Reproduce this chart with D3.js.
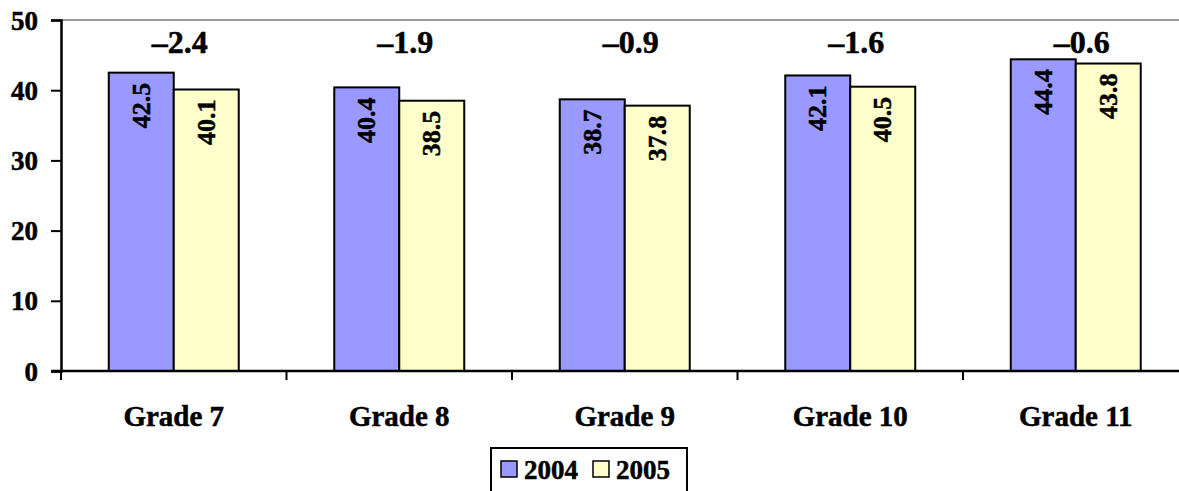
<!DOCTYPE html>
<html>
<head>
<meta charset="utf-8">
<script src="https://cdn.jsdelivr.net/npm/d3@7"></script>
<style>
  html, body { margin: 0; padding: 0; background: #fff; }
  svg { display: block; font-family: "Liberation Serif", "Times New Roman", serif; font-weight: bold; }
  svg text { stroke: #000; stroke-width: 0.5px; fill: #000; }
</style>
</head>
<body>
<svg id="chart" width="1179" height="491"></svg>
<script>
const categories = ["Grade 7", "Grade 8", "Grade 9", "Grade 10", "Grade 11"];
const seriesNames = ["2004", "2005"];
const values2004 = [42.5, 40.4, 38.7, 42.1, 44.4];
const values2005 = [40.1, 38.5, 37.8, 40.5, 43.8];
const changeLabels = ["\u20132.4", "\u20131.9", "\u20130.9", "\u20131.6", "\u20130.6"];
const yTicks = [0, 10, 20, 30, 40, 50];
const colors = ["#9999FF", "#FFFFCC"];

const svg = d3.select("#chart");
const plotLeft = 61, plotTop = 20, plotBottom = 371;
const bandW = 225.5;
const plotRight = plotLeft + bandW * categories.length;

const x = d3.scaleBand().domain(categories).range([plotLeft, plotRight]).paddingInner(0).paddingOuter(0);
const y = d3.scaleLinear().domain([0, 50]).range([plotBottom, plotTop]);
const xs = d3.scaleBand().domain(seriesNames).range([0, x.bandwidth()]).paddingInner(0).paddingOuter(0.735);

// top border of plot area
svg.append("line")
  .attr("x1", plotLeft).attr("x2", 1179).attr("y1", y(50)).attr("y2", y(50))
  .attr("stroke", "#999").attr("stroke-width", 2);

// bars
const data = categories.map((c, i) => ({ c, vals: [values2004[i], values2005[i]] }));
const groups = svg.append("g").selectAll("g").data(data).join("g")
  .attr("transform", d => `translate(${x(d.c)},0)`);

groups.selectAll("rect").data(d => d.vals.map((v, j) => ({ v, s: seriesNames[j], j })))
  .join("rect")
  .attr("x", d => xs(d.s))
  .attr("width", xs.bandwidth())
  .attr("y", d => y(d.v))
  .attr("height", d => y(0) - y(d.v))
  .attr("fill", d => colors[d.j])
  .attr("stroke", "#000").attr("stroke-width", 2);

// rotated value labels inside bars
groups.selectAll("text.val").data(d => d.vals.map((v, j) => ({ v, s: seriesNames[j] })))
  .join("text")
  .attr("class", "val")
  .attr("transform", d => `translate(${xs(d.s) + xs.bandwidth() / 2 + 8.5},${y(d.v) + 10}) rotate(-90)`)
  .attr("text-anchor", "end")
  .attr("font-size", 26)
  .text(d => d.v.toFixed(1));

// change labels above each group
svg.append("g").selectAll("text").data(categories)
  .join("text")
  .attr("x", (c) => x(c) + x.bandwidth() / 2 + 6)
  .attr("y", 53)
  .attr("text-anchor", "middle")
  .attr("font-size", 32)
  .text((c, i) => changeLabels[i]);

// y axis
const yAxis = svg.append("g").attr("transform", `translate(${plotLeft},0)`)
  .call(d3.axisLeft(y).tickValues(yTicks).tickSize(10).tickPadding(13).tickFormat(d3.format("d")));
yAxis.attr("font-family", null).attr("font-size", null);
yAxis.select(".domain").attr("stroke", "#000").attr("stroke-width", 2.5);
yAxis.selectAll(".tick line").attr("stroke", "#000").attr("stroke-width", 2);
yAxis.selectAll(".tick text").attr("font-size", 27).attr("dy", "0.34em").attr("fill", "#000");

// x axis
const xAxis = svg.append("g").attr("transform", `translate(0,${plotBottom})`);
xAxis.append("line").attr("x1", plotLeft - 10).attr("x2", 1179).attr("y1", 0).attr("y2", 0)
  .attr("stroke", "#000").attr("stroke-width", 2.5);
xAxis.selectAll("line.tk").data(d3.range(categories.length + 1))
  .join("line").attr("class", "tk")
  .attr("x1", i => plotLeft + i * bandW).attr("x2", i => plotLeft + i * bandW)
  .attr("y1", 0).attr("y2", 9)
  .attr("stroke", "#000").attr("stroke-width", 2);
xAxis.selectAll("text").data(categories)
  .join("text")
  .attr("x", c => x(c) + x.bandwidth() / 2)
  .attr("y", 55)
  .attr("text-anchor", "middle")
  .attr("font-size", 29)
  .text(c => c);

// legend
const lg = svg.append("g").attr("transform", "translate(491,448)");
lg.append("rect").attr("x", 0).attr("y", 0).attr("width", 196).attr("height", 50)
  .attr("fill", "#fff").attr("stroke", "#000").attr("stroke-width", 2);
const li = lg.selectAll("g").data(seriesNames).join("g")
  .attr("transform", (d, i) => `translate(${10 + i * 92},13)`);
li.append("rect").attr("width", 16).attr("height", 16)
  .attr("fill", (d, i) => colors[i]).attr("stroke", "#000").attr("stroke-width", 1.5);
li.append("text").attr("x", 23).attr("y", 18).attr("font-size", 27).text(d => d);
</script>
</body>
</html>
